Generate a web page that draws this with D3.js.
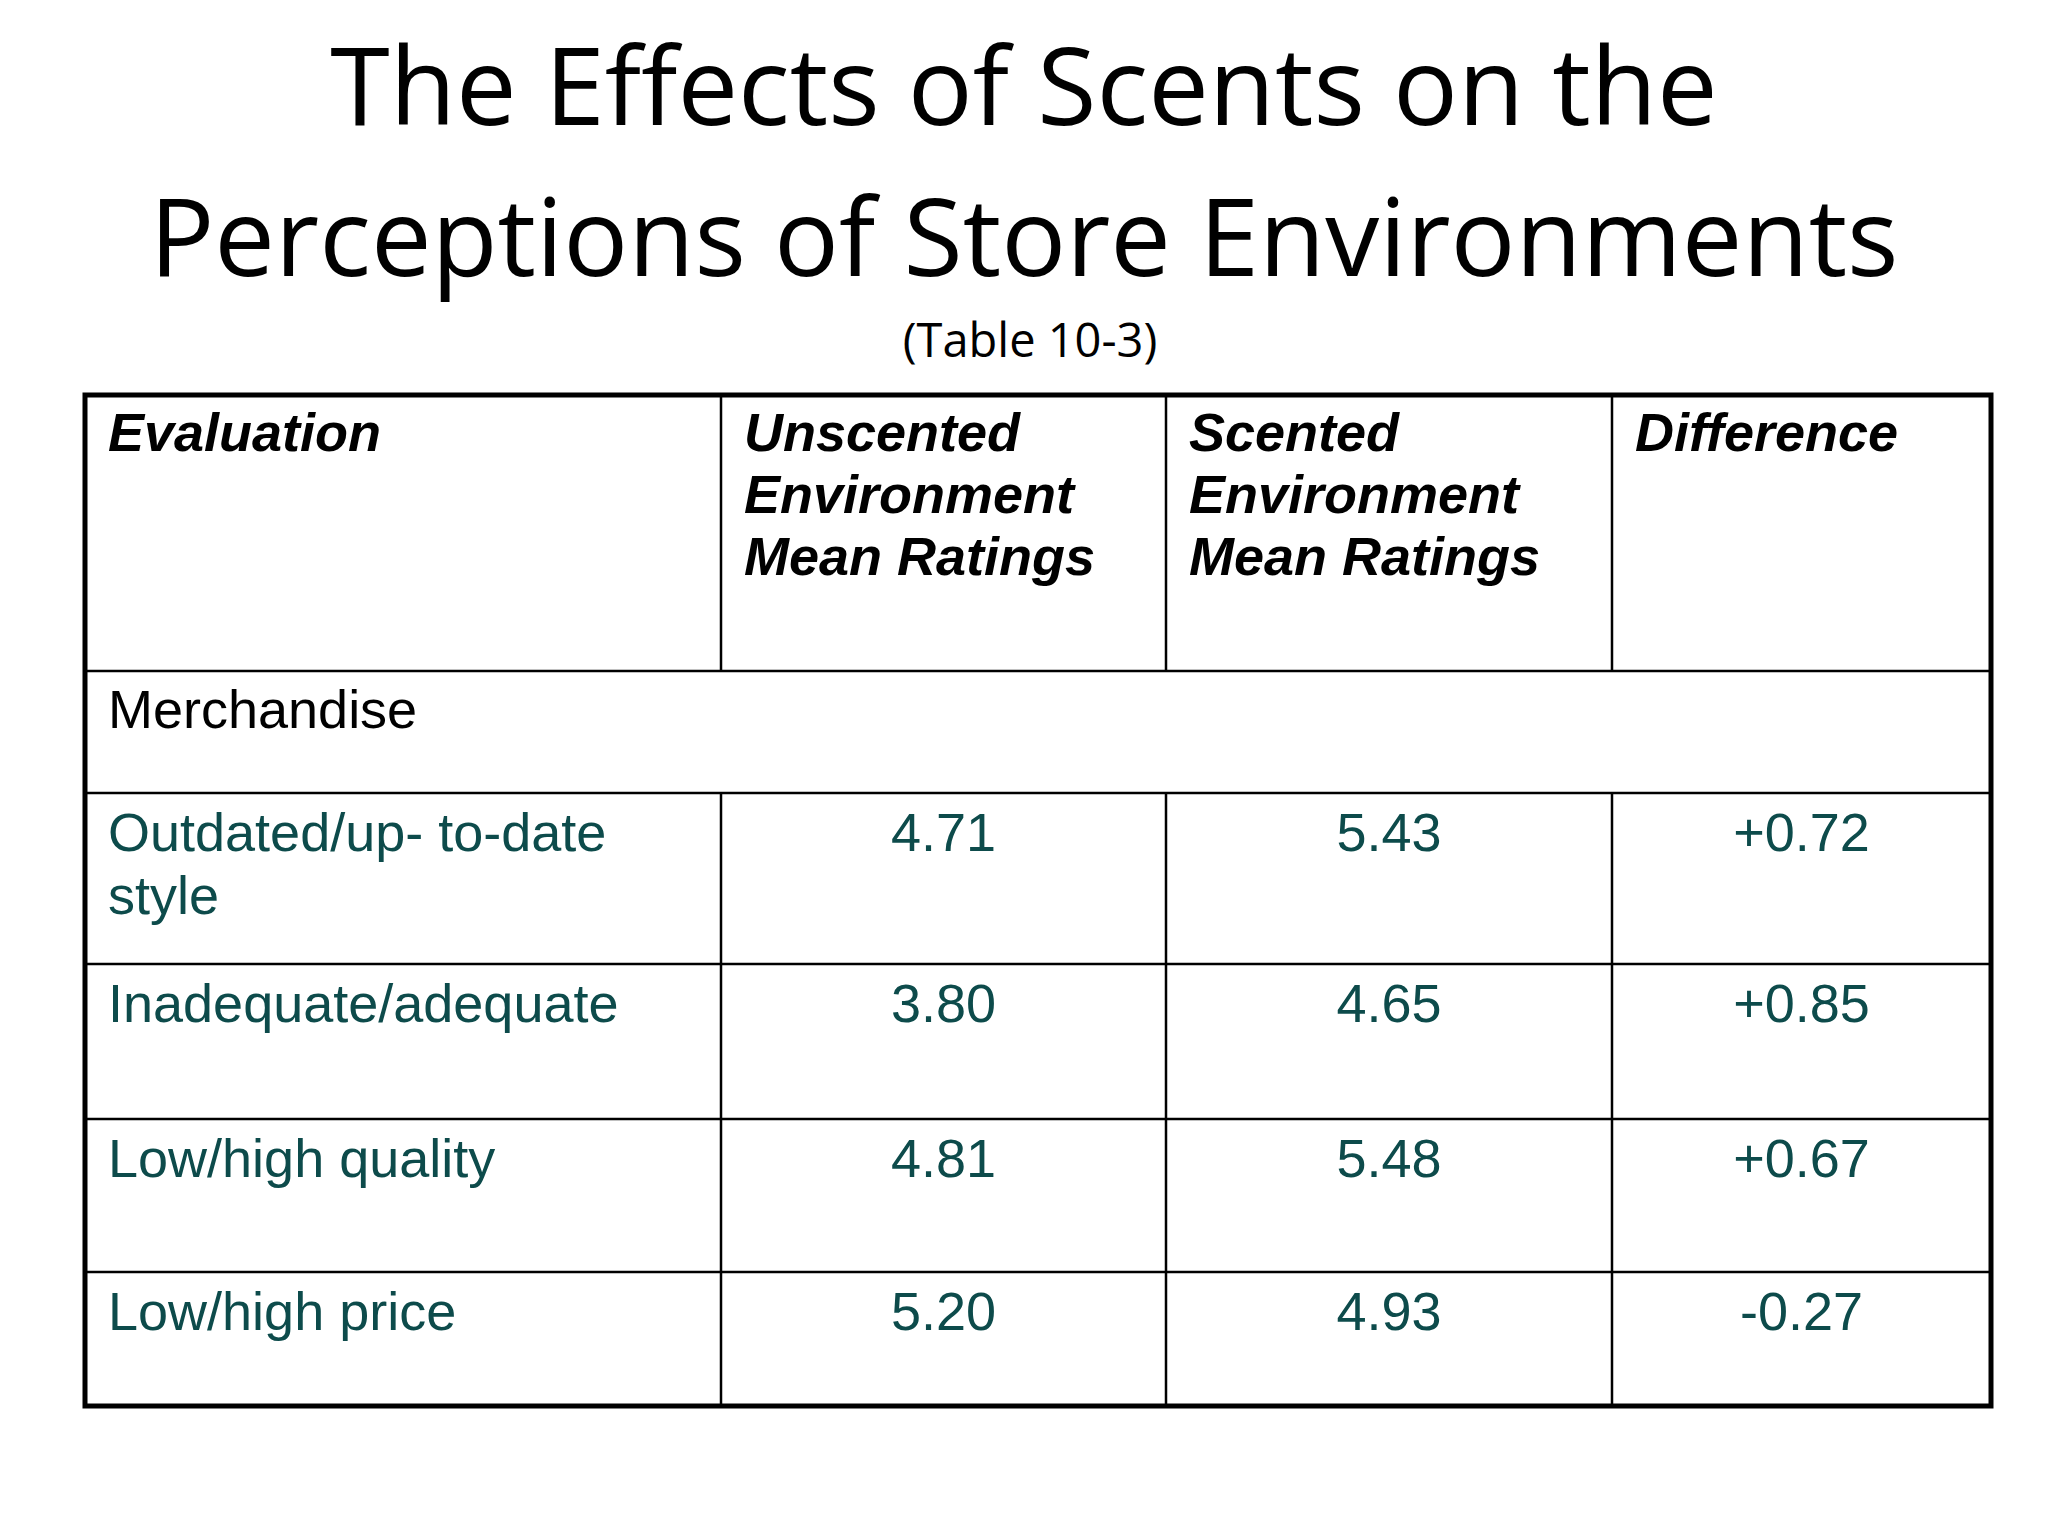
<!DOCTYPE html>
<html><head><meta charset="utf-8">
<script src="https://cdn.jsdelivr.net/npm/d3@7"></script>
<style>body{margin:0;background:#fff}</style>
</head><body>
<script>
var titleLines = ['The Effects of Scents on the', 'Perceptions of Store Environments'];
var subtitle = '(Table 10-3)';
var headers = [['Evaluation'], ['Unscented', 'Environment', 'Mean Ratings'], ['Scented', 'Environment', 'Mean Ratings'], ['Difference']];
var section = 'Merchandise';
var evaluations = [['Outdated/up- to-date', 'style'], ['Inadequate/adequate'], ['Low/high quality'], ['Low/high price']];
var unscented = ['4.71', '3.80', '4.81', '5.20'];
var scented = ['5.43', '4.65', '5.48', '4.93'];
var difference = ['+0.72', '+0.85', '+0.67', '-0.27'];

var W = 2048, H = 1536;
var svg = d3.select('body').append('svg').attr('width', W).attr('height', H);

svg.selectAll('.title').data(titleLines).enter().append('text')
	.attr('x', W / 2).attr('y', (d, i) => 125 + i * 151)
	.attr('text-anchor', 'middle').style('font-family', '"Open Sans", "Noto Sans", sans-serif')
	.style('font-size', '108px').text(d => d);
svg.append('text').attr('x', 1030).attr('y', 357).attr('text-anchor', 'middle')
	.style('font-family', '"Open Sans", sans-serif').style('font-size', '47px').text(subtitle);

// column and row edges
var colEdges = [85, 721, 1166, 1612, 1991];
var rowEdges = [395, 671, 793, 964, 1119, 1272, 1406];
var font = '"Liberation Sans", Arial, sans-serif';
var teal = '#0d4b4b';

var g = svg.append('g');
// header
headers.forEach(function(lines, c) {
	g.selectAll(null).data(lines).enter().append('text')
		.attr('x', colEdges[c] + 23).attr('y', (d, i) => 451 + i * 62)
		.style('font-family', font).style('font-size', '54px')
		.style('font-weight', 'bold').style('font-style', 'italic').text(d => d);
});
g.append('text').attr('x', colEdges[0] + 23).attr('y', 728)
	.style('font-family', font).style('font-size', '54px').text(section);

evaluations.forEach(function(lines, r) {
	var y0 = rowEdges[r + 2];
	g.selectAll(null).data(lines).enter().append('text')
		.attr('x', colEdges[0] + 23).attr('y', (d, i) => y0 + 58 + i * 63)
		.style('font-family', font).style('font-size', '54px').style('fill', teal).text(d => d);
	[unscented, scented, difference].forEach(function(arr, k) {
		g.append('text').attr('x', (colEdges[k + 1] + colEdges[k + 2]) / 2).attr('y', y0 + 58)
			.attr('text-anchor', 'middle').style('font-family', font).style('font-size', '54px')
			.style('fill', teal).text(arr[r]);
	});
});

// grid lines
var lines = g.append('g').attr('stroke', '#000').attr('stroke-width', 2.5);
rowEdges.slice(1, -1).forEach(function(y) {
	lines.append('line').attr('x1', colEdges[0]).attr('x2', colEdges[4]).attr('y1', y).attr('y2', y);
});
colEdges.slice(1, -1).forEach(function(x) {
	[[rowEdges[0], rowEdges[1]], [rowEdges[2], rowEdges[6]]].forEach(function(s) {
		lines.append('line').attr('x1', x).attr('x2', x).attr('y1', s[0]).attr('y2', s[1]);
	});
});
g.append('rect').attr('x', colEdges[0]).attr('y', rowEdges[0])
	.attr('width', colEdges[4] - colEdges[0]).attr('height', rowEdges[6] - rowEdges[0])
	.attr('fill', 'none').attr('stroke', '#000').attr('stroke-width', 5);
</script>
</body></html>
